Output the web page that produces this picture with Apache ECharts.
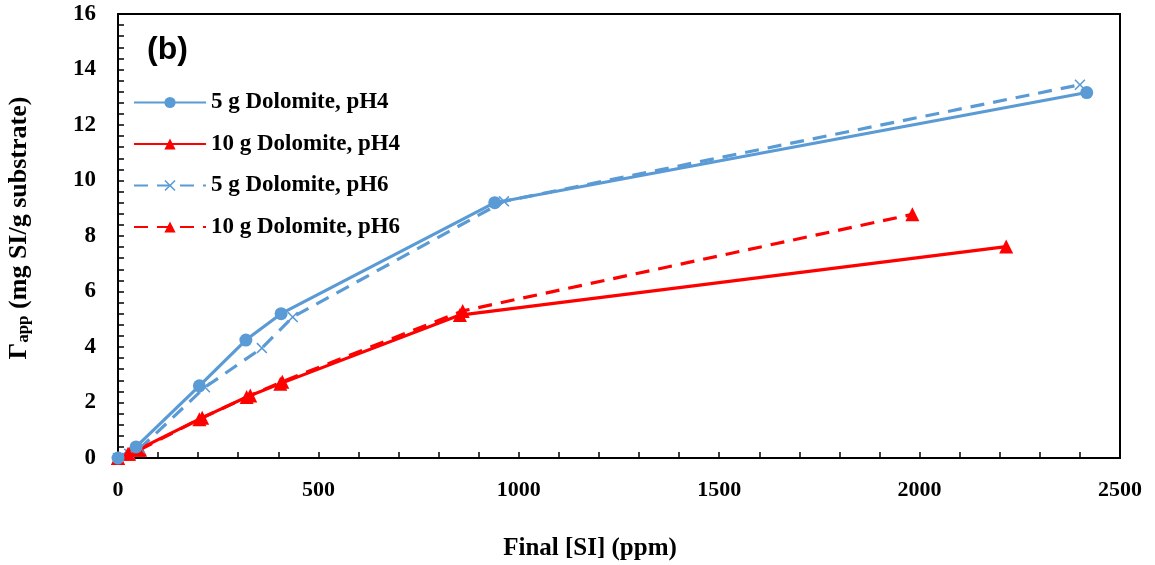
<!DOCTYPE html>
<html>
<head>
<meta charset="utf-8">
<script src="https://cdn.jsdelivr.net/npm/echarts@6/dist/echarts.min.js"></script>
<style>html,body{margin:0;padding:0;background:#fff}#c{width:1155px;height:565px}</style>
</head>
<body>
<div id="c"></div>
<script>
const seriesNames = ['5 g Dolomite, pH4', '10 g Dolomite, pH4', '5 g Dolomite, pH6', '10 g Dolomite, pH6'];
const x5pH4 = [0, 45, 203, 319, 407, 940, 2417];
const y5pH4 = [0, 0.4, 2.6, 4.25, 5.2, 9.2, 13.17];
const x10pH4 = [0, 25, 50, 203, 321, 405, 853, 2216];
const y10pH4 = [0, 0.15, 0.3, 1.4, 2.2, 2.68, 5.15, 7.62];
const x5pH6 = [0, 28, 55, 217, 359, 436, 963, 2400];
const y5pH6 = [0, 0.15, 0.35, 2.55, 3.96, 5.08, 9.25, 13.45];
const x10pH6 = [0, 28, 55, 210, 330, 410, 860, 1982];
const y10pH6 = [0, 0.15, 0.3, 1.45, 2.25, 2.75, 5.3, 8.78];
const xTicks = [0, 500, 1000, 1500, 2000, 2500];
const yTicks = [0, 2, 4, 6, 8, 10, 12, 14, 16];

const pair = (xs, ys) => xs.map((x, i) => [x, ys[i]]);
const BLUE = '#5B9BD5', RED = '#FF0000';
const serif = 'Liberation Serif';
const xMark = 'path://M0,1L1,0L5,4L9,0L10,1L6,5L10,9L9,10L5,6L1,10L0,9L4,5Z';

const chart = echarts.init(document.getElementById('c'), null, {renderer: 'canvas'});
const axisCommon = {
  axisLine: {lineStyle: {color: '#000', width: 2}},
  axisTick: {show: true, inside: true, length: 6, lineStyle: {color: '#000', width: 1.5}},
  minorTick: {show: true, splitNumber: 5, length: 6, lineStyle: {color: '#000', width: 1.5}},
  splitLine: {show: false}
};
chart.setOption({
  animation: false,
  backgroundColor: '#fff',
  grid: {left: 118, right: 35, top: 14, bottom: 107, show: true, borderColor: '#000', borderWidth: 2,
         containLabel: false, outerBoundsMode: 'none'},
  xAxis: Object.assign({}, axisCommon, {
    type: 'value', min: xTicks[0], max: xTicks[xTicks.length - 1], interval: 500,
    axisLabel: {color: '#000', fontFamily: serif, fontWeight: 'bold', fontSize: 22, margin: 21,
                formatter: v => String(v)},
    name: 'Final [SI] (ppm)', nameLocation: 'middle', nameGap: 78,
    nameTextStyle: {color: '#000', fontFamily: serif, fontWeight: 'bold', fontSize: 25, padding: [0, 58, 0, 0]}
  }),
  yAxis: Object.assign({}, axisCommon, {
    type: 'value', min: yTicks[0], max: yTicks[yTicks.length - 1], interval: 2,
    axisLabel: {color: '#000', fontFamily: serif, fontWeight: 'bold', fontSize: 23, margin: 22,
                formatter: v => String(v)},
    name: '{a|Γ}{b|app}{a| (mg SI/g substrate)}', nameLocation: 'middle', nameGap: 86,
    nameTextStyle: {
      color: '#000', padding: [0, 0, 0, 16],
      rich: {
        a: {fontFamily: serif, fontWeight: 'bold', fontSize: 26, color: '#000', lineHeight: 30, verticalAlign: 'bottom'},
        b: {fontFamily: serif, fontWeight: 'bold', fontSize: 17, color: '#000', lineHeight: 30, verticalAlign: 'bottom', padding: [10, 0, 0, 0]}
      }
    }
  }),
  legend: {
    orient: 'vertical', left: 128, top: 86,
    itemWidth: 72, itemHeight: 14, itemGap: 18.5,
    textStyle: {color: '#000', fontFamily: serif, fontWeight: 'bold', fontSize: 23, lineHeight: 23},
    data: seriesNames
  },
  graphic: [{
    type: 'text', left: 147, top: 34,
    style: {text: '(b)', fill: '#000', font: 'bold 32px "Liberation Sans"'}
  }],
  series: [
    {name: seriesNames[3], type: 'line', data: pair(x10pH6, y10pH6), symbol: 'triangle', symbolSize: 14,
     itemStyle: {color: RED}, lineStyle: {color: RED, width: 3.2, type: [14, 9]}},
    {name: seriesNames[2], type: 'line', data: pair(x5pH6, y5pH6), symbol: xMark, symbolSize: 11,
     itemStyle: {color: BLUE}, lineStyle: {color: BLUE, width: 3.2, type: [14, 9]}},
    {name: seriesNames[1], type: 'line', data: pair(x10pH4, y10pH4), symbol: 'triangle', symbolSize: 14,
     itemStyle: {color: RED}, lineStyle: {color: RED, width: 3.2}},
    {name: seriesNames[0], type: 'line', data: pair(x5pH4, y5pH4), symbol: 'circle', symbolSize: 13,
     itemStyle: {color: BLUE}, lineStyle: {color: BLUE, width: 3.2}}
  ]
});
</script>
</body>
</html>
